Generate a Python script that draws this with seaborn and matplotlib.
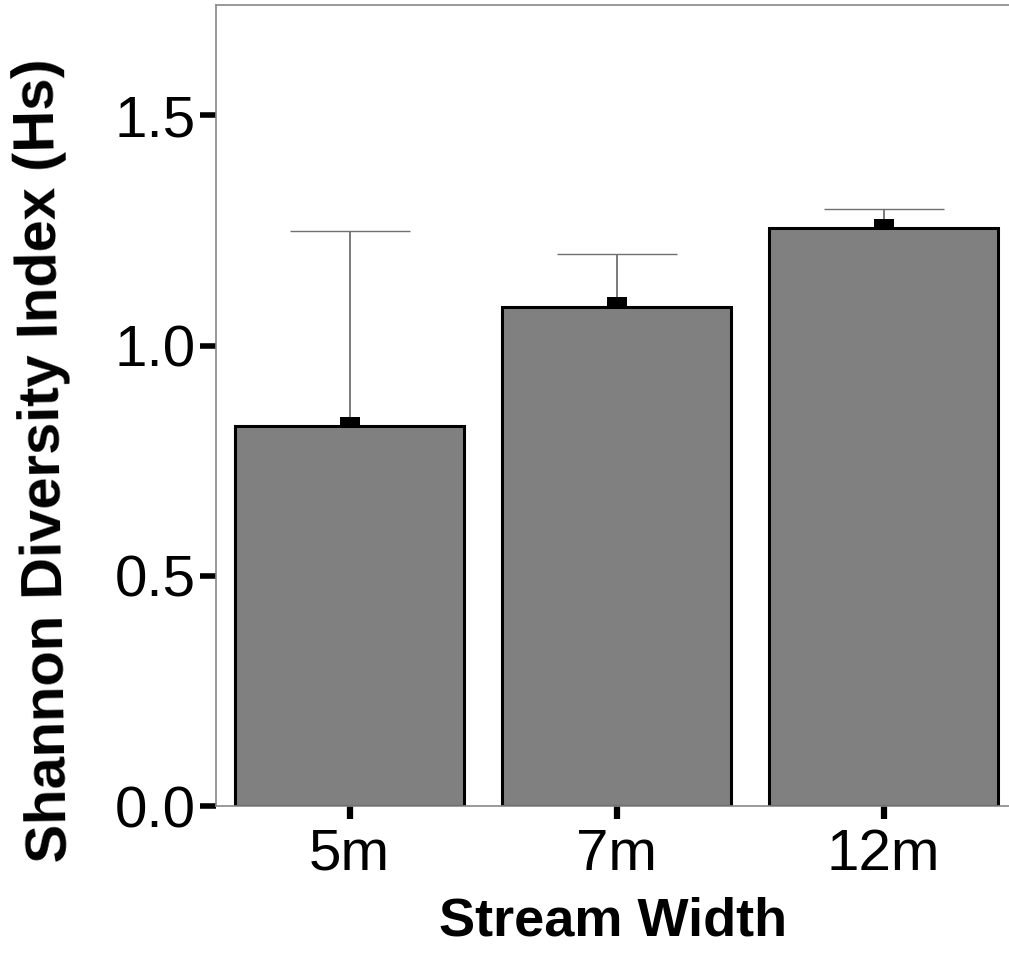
import matplotlib
matplotlib.use("Agg")
import matplotlib.pyplot as plt
import seaborn as sns
import numpy as np
import pandas as pd

categories = ["5m", "7m", "12m"]
bar_means = [0.825, 1.085, 1.255]
point_means = [0.835, 1.094, 1.264]
upper_limits = [1.248, 1.199, 1.296]
y_ticks = [0.0, 0.5, 1.0, 1.5]
y_tick_labels = ["0.0", "0.5", "1.0", "1.5"]

df = pd.DataFrame({"width": categories, "hs": bar_means})

sns.set_style("white")
plt.rcParams["font.family"] = ["Liberation Sans", "DejaVu Sans"]
plt.rcParams["text.color"] = "black"
plt.rcParams["axes.labelcolor"] = "black"
plt.rcParams["xtick.color"] = "black"
plt.rcParams["ytick.color"] = "black"

W, H = 1009, 961
fig = plt.figure(figsize=(W / 100, H / 100), dpi=100)
ax_l, ax_b, ax_w, ax_h = 216, 806, 801, 801
ax = fig.add_axes([ax_l / W, 1 - ax_b / H, ax_w / W, ax_h / H])

sns.barplot(data=df, x="width", y="hs", order=categories, color="#808080",
            saturation=1, edgecolor="black", linewidth=2.2, width=0.86, ax=ax,
            errorbar=None, zorder=2)

xs = np.arange(len(categories))
err_up = np.array(upper_limits) - np.array(point_means)
eb = ax.errorbar(xs, point_means, yerr=[np.zeros(len(xs)), err_up], fmt="none",
                 ecolor="#707070", elinewidth=1.3, capsize=43, capthick=1.0, zorder=3)
caplines = eb.lines[1]
caplines[0].set_visible(False)
for c in caplines[1:]:
    c.set_color("black")

rect = [(-1, -0.47), (1, -0.47), (1, 0.47), (-1, 0.47), (-1, -0.47)]
ax.scatter(xs, point_means, marker=rect, s=(14.5) ** 2, color="black", zorder=4, linewidths=0)

ax.set_xlim(-0.5, 2.5)
ax.set_ylim(0, 1.74)
ax.set_yticks(y_ticks)
ax.set_yticklabels(y_tick_labels)

for s in ["left", "top", "bottom", "right"]:
    ax.spines[s].set_color("#888888")
    ax.spines[s].set_linewidth(1.2)

ax.tick_params(axis="y", length=11.5, width=4, colors="black", labelsize=42, pad=3, left=True)
ax.tick_params(axis="x", length=9.5, width=4.5, colors="black", labelsize=42, pad=6, bottom=True)

ax.set_xlabel("Stream Width", fontsize=39, fontweight="bold", color="black")
ax.xaxis.label.set_va("baseline")
ax.xaxis.set_label_coords((613.5 - ax_l) / ax_w, (ax_b - 936) / ax_h)

ax.set_ylabel("Shannon Diversity Index (Hs)", fontsize=41.7, fontweight="bold", color="black")
ax.yaxis.label.set_rotation(91)
ax.yaxis.label.set_rotation_mode("anchor")
ax.yaxis.label.set_ha("center")
ax.yaxis.label.set_va("baseline")
ax.yaxis.set_label_coords((60 - ax_l) / ax_w, (ax_b - 460) / ax_h)

fig.savefig("out.png", dpi=100)
